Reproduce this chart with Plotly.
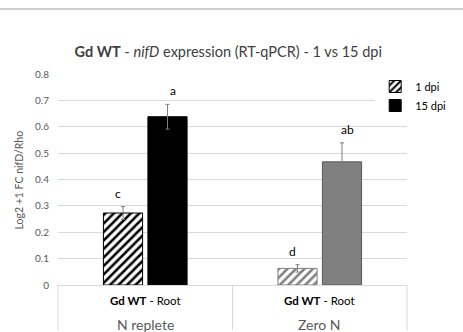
import plotly.graph_objects as go

categories = ["N replete", "Zero N"]
sublabel = "<b>Gd WT</b> - Root"
series_names = ["1 dpi", "15 dpi"]
vals_1dpi = [0.273, 0.063]
err_1dpi = [0.024, 0.014]
vals_15dpi = [0.638, 0.467]
err_15dpi = [0.047, 0.072]
letters_1dpi = ["c", "d"]
letters_15dpi = ["a", "ab"]
y_ticks = [0, 0.1, 0.2, 0.3, 0.4, 0.5, 0.6, 0.7, 0.8]

FONT = "Lato"
TXT = "#595959"
GRID = "#d9d9d9"

fig = go.Figure()
fig.add_trace(go.Bar(
    name=series_names[0], x=categories, y=vals_1dpi,
    error_y=dict(type="data", array=err_1dpi, color="#7f7f7f", thickness=1, width=2),
    marker=dict(color="white",
                line=dict(color=["#000000", "#7f7f7f"], width=1),
                pattern=dict(shape="/", fgcolor=["#000000", "#7f7f7f"], bgcolor="white",
                             size=6, solidity=0.42, fillmode="replace")),
))
fig.add_trace(go.Bar(
    name=series_names[1], x=categories, y=vals_15dpi,
    error_y=dict(type="data", array=err_15dpi, color="#7f7f7f", thickness=1, width=2),
    marker=dict(color=["#000000", "#808080"],
                line=dict(color=["#000000", "#595959"], width=1)),
))

plot_h = 332 - 74 - 47
plot_w = 463 - 58 - 21

annotations = []
for i, c in enumerate(categories):
    annotations.append(dict(x=c, y=vals_1dpi[i] + err_1dpi[i], xref="x", yref="y",
                            text=letters_1dpi[i], showarrow=False, yanchor="bottom",
                            xshift=-27.5, yshift=4, font=dict(size=12, color="#000000", family=FONT)))
    annotations.append(dict(x=c, y=vals_15dpi[i] + err_15dpi[i], xref="x", yref="y",
                            text=letters_15dpi[i], showarrow=False, yanchor="bottom",
                            xshift=27.5, yshift=4, font=dict(size=12, color="#000000", family=FONT)))
    annotations.append(dict(x=c, y=0, xref="x", yref="y", text=sublabel, showarrow=False,
                            yanchor="middle", yshift=-15, font=dict(size=11.5, color="#000000", family=FONT)))
    annotations.append(dict(x=c, y=0, xref="x", yref="y", text=c, showarrow=False,
                            yanchor="middle", yshift=-39, font=dict(size=14, color=TXT, family=FONT)))

annotations.append(dict(x=(15 - 58) / plot_w, y=0.5, xref="paper", yref="paper",
                        text="Log2 +1 FC nifD/Rho",
                        showarrow=False, textangle=-90, xanchor="center", yanchor="middle",
                        font=dict(size=10.5, color=TXT, family=FONT)))

shapes = []
for xp in [0, 0.5, 1]:
    shapes.append(dict(type="line", xref="paper", yref="paper", x0=xp, x1=xp,
                       y0=0, y1=-45 / plot_h, line=dict(color=GRID, width=1)))
shapes.append(dict(type="line", xref="paper", yref="paper", x0=-0.3, x1=1.3,
                   y0=(285 - 9) / plot_h, y1=(285 - 9) / plot_h, line=dict(color="#bfbfbf", width=1.5)))

fig.update_layout(
    width=463, height=332,
    margin=dict(l=58, r=21, t=74, b=47),
    paper_bgcolor="white", plot_bgcolor="white",
    font=dict(family=FONT, color=TXT),
    title=dict(text="<b>Gd WT</b> - <i>nifD</i> expression (RT-qPCR) - 1 vs 15 dpi",
               x=0.493, xanchor="center", y=1 - 52 / 332, yanchor="middle",
               font=dict(size=14.5, color="#404040", family=FONT)),
    barmode="group", bargap=0.49, bargroupgap=0.12,
    showlegend=True,
    legend=dict(x=(407 - 58) / plot_w, y=(285 - 72) / plot_h, xanchor="left", yanchor="top",
                bgcolor="white", font=dict(size=11, color="#000000", family=FONT),
                itemwidth=30, tracegroupgap=0),
    xaxis=dict(showticklabels=False, showgrid=False, showline=True, linecolor=GRID,
               linewidth=1, ticks="", zeroline=False),
    yaxis=dict(range=[0, 0.8], tickvals=y_ticks, ticktext=[f"{v:g}" for v in y_ticks],
               showgrid=True, gridcolor=GRID, gridwidth=1, zeroline=False, showline=False,
               ticks="", ticklabelstandoff=8, tickfont=dict(size=10, color=TXT, family=FONT)),
    annotations=annotations, shapes=shapes,
)

fig.write_html("out.html", config={"displayModeBar": False},
               post_script="document.body.style.margin='0px';")
